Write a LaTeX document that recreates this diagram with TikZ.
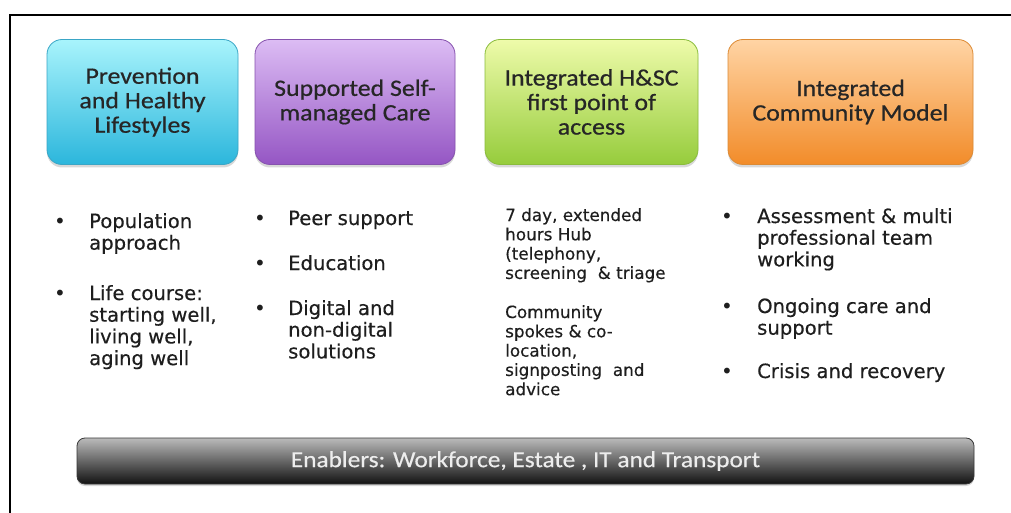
\documentclass[tikz,border=0pt]{standalone}
\usepackage{fontspec}
\setmainfont[FakeBold=0.35]{DejaVu Sans}
\newfontfamily\headfont[FakeStretch=1.1,FakeBold=0.6]{Carlito}
\newfontfamily\barfont[FakeStretch=1.1,FakeBold=0.4]{Carlito}
\newfontfamily\dotfont{DejaVu Sans}
\usetikzlibrary{shadows}

% pillar colours: top, middle, bottom, border
\definecolor{cyanT}{HTML}{A8F4FC}\definecolor{cyanM}{HTML}{62DBF1}\definecolor{cyanB}{HTML}{2CB6DC}\definecolor{cyanD}{HTML}{3AA6C6}
\definecolor{purT}{HTML}{DCBCF4}\definecolor{purM}{HTML}{BA8CE2}\definecolor{purB}{HTML}{9556C4}\definecolor{purD}{HTML}{8652AE}
\definecolor{grnT}{HTML}{EEFBAA}\definecolor{grnM}{HTML}{C8EC6C}\definecolor{grnB}{HTML}{96CC3C}\definecolor{grnD}{HTML}{8ABC3C}
\definecolor{orgT}{HTML}{FFD4A4}\definecolor{orgM}{HTML}{FFB062}\definecolor{orgB}{HTML}{F28C2A}\definecolor{orgD}{HTML}{DC8A34}
\definecolor{headtext}{HTML}{262626}
\definecolor{bodytext}{HTML}{1E1E1E}

\newcommand\linesof[1]{\begin{tabular}[t]{@{}l@{}}#1\end{tabular}}

\begin{document}
\begin{tikzpicture}[x=1pt,y=-1pt,
  pillar/.style n args={5}{rounded corners=15pt, minimum width=#1, minimum height=125pt,
    inner sep=0pt, align=center, text=headtext,
    font=\headfont\fontsize{23.5}{24.5}\selectfont,
    top color=#2, middle color=#3, bottom color=#4, draw=#5, line width=0.8pt,
    drop shadow={shadow xshift=0pt, shadow yshift=-3pt, opacity=0.3}},
  item/.style={anchor=base west, inner sep=0pt, text=bodytext,
    font=\fontsize{19.6}{21.7}\selectfont},
  hubitem/.style={anchor=base west, inner sep=0pt, text=bodytext,
    font=\fontsize{16.8}{19.3}\selectfont},
  dot/.style={anchor=base, inner sep=0pt, text=bodytext,
    font=\dotfont\fontsize{20}{22}\selectfont},
  enabler/.style={rounded corners=8pt, minimum width=897pt, minimum height=46pt,
    inner sep=0pt, top color=black!27, bottom color=black!93, draw=black!78,
    line width=0.8pt, text=black!7, font=\barfont\fontsize{23}{26}\selectfont,
    drop shadow={shadow xshift=0pt, shadow yshift=-2pt, opacity=0.3}}]

\useasboundingbox (0,0) rectangle (1011,513);
\fill[white] (0,0) rectangle (1011,513);

% frame lines (top and left)
\draw[line width=2.5pt] (10,513) -- (10,15) -- (1011,15);

% the four pillars
\node[pillar={191pt}{cyanT}{cyanM}{cyanB}{cyanD}] (prev) at (142.5,102)
  {Prevention\\and Healthy\\Lifestyles};
\node[pillar={200pt}{purT}{purM}{purB}{purD}] (self) at (355,102)
  {Supported Self-\\managed Care};
\node[pillar={213pt}{grnT}{grnM}{grnB}{grnD}] (hsc) at (591.5,102)
  {Integrated H\&SC\\first point of\\access};
\node[pillar={245pt}{orgT}{orgM}{orgB}{orgD}] (icm) at (850.5,102)
  {Integrated\\Community Model};

% column 1
\node[dot] (d11) at (60,228) {\textbullet};
\node[item] (t11) at (89,228) {\linesof{Population\\approach}};
\node[dot] (d12) at (60,300) {\textbullet};
\node[item] (t12) at (89,300) {\linesof{Life course:\\starting well,\\living well,\\aging well}};

% column 2
\node[dot] (d21) at (260,225) {\textbullet};
\node[item] (t21) at (288,225) {Peer support};
\node[dot] (d22) at (260,270) {\textbullet};
\node[item] (t22) at (288,270) {Education};
\node[dot] (d23) at (260,315) {\textbullet};
\node[item] (t23) at (288,315) {\linesof{Digital and\\non-digital\\solutions}};

% column 3
\node[hubitem] (t31) at (505,221) {\linesof{7 day, extended\\hours Hub\\(telephony,\\screening \ \& triage}};
\node[hubitem] (t32) at (505,318) {\linesof{Community\\spokes \& co-\\location,\\signposting \ and\\advice}};

% column 4
\node[dot] (d41) at (727,223) {\textbullet};
\node[item] (t41) at (757,223) {\linesof{Assessment \& multi\\professional team\\working}};
\node[dot] (d42) at (727,313) {\textbullet};
\node[item] (t42) at (757,313) {\linesof{Ongoing care and\\support}};
\node[dot] (d43) at (727,378) {\textbullet};
\node[item] (t43) at (757,378) {Crisis and recovery};

% enablers bar
\node[enabler] (bar) at (525.5,461) {Enablers: Workforce, Estate , IT and Transport};

\end{tikzpicture}
\end{document}
